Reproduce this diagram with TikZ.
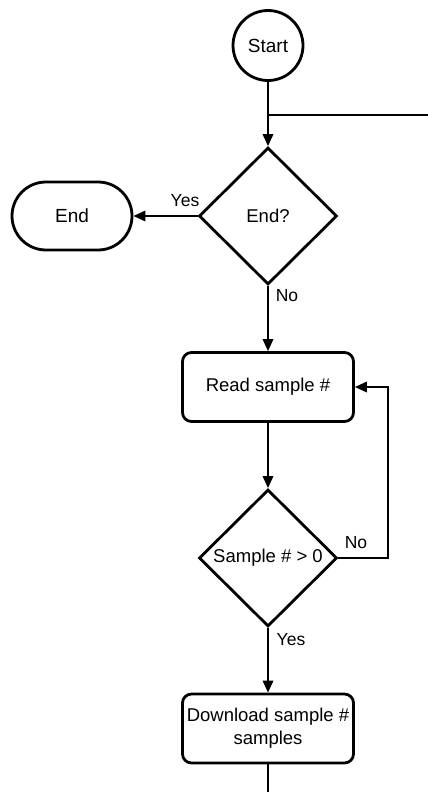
\documentclass[tikz,border=0pt]{standalone}
\usepackage{fontspec}
\setmainfont{Liberation Sans}
\usetikzlibrary{shapes.geometric,arrows.meta}
\tikzset{
  shapeline/.style={draw=black,line width=2.8pt,fill=white,align=center,inner sep=0pt},
  termcircle/.style={shapeline,circle,minimum size=70pt,font=\fontsize{19}{23}\selectfont},
  termpill/.style={shapeline,rectangle,rounded corners=34pt,minimum width=120pt,minimum height=68pt,font=\fontsize{19}{23}\selectfont},
  procbox/.style={shapeline,rectangle,rounded corners=9pt,minimum width=171pt,minimum height=69pt,font=\fontsize{18.5}{23}\selectfont},
  decision/.style={shapeline,diamond,minimum width=138pt,minimum height=137pt,font=\fontsize{18.5}{23}\selectfont},
  conn/.style={draw=black,line width=1.8pt},
  arrow/.style={conn,-{Triangle[length=12pt,width=10.5pt]}},
  lbl/.style={font=\fontsize{17.5}{21}\selectfont,inner sep=0pt}
}
\begin{document}
\begin{tikzpicture}[x=1pt,y=-1pt]
\useasboundingbox (0,0) rectangle (428,792);
\node[termcircle] (start) at (268,45.5) {Start};
\node[decision] (enddec) at (268,216) {End?};
\node[termpill] (end) at (72,216) {End};
\node[procbox] (read) at (268,387) {Read sample \#};
\node[decision] (sdec) at (268,558) {Sample \# > 0};
\node[procbox] (dl) at (268,728.5) {Download sample \#\\samples};
\coordinate (j) at (268,115);
\coordinate (rt) at (428,115);
\coordinate (loop) at (388,558);
\coordinate (bot) at (268,792);
\draw[arrow] (start) -- (enddec);
\draw[conn,line width=1.5pt] (j) -- (rt);
\draw[arrow] (enddec) -- (end);
\draw[arrow] (enddec) -- (read);
\draw[arrow] (read) -- (sdec);
\draw[arrow] (sdec.east) -- (loop) |- (read.east);
\draw[arrow] (sdec) -- (dl);
\draw[conn] (dl) -- (bot);
\node[lbl] (lyes1) at (185,201) {Yes};
\node[lbl] (lno1) at (287,296) {No};
\node[lbl] (lno2) at (356,543) {No};
\node[lbl] (lyes2) at (291,640) {Yes};
\end{tikzpicture}
\end{document}
